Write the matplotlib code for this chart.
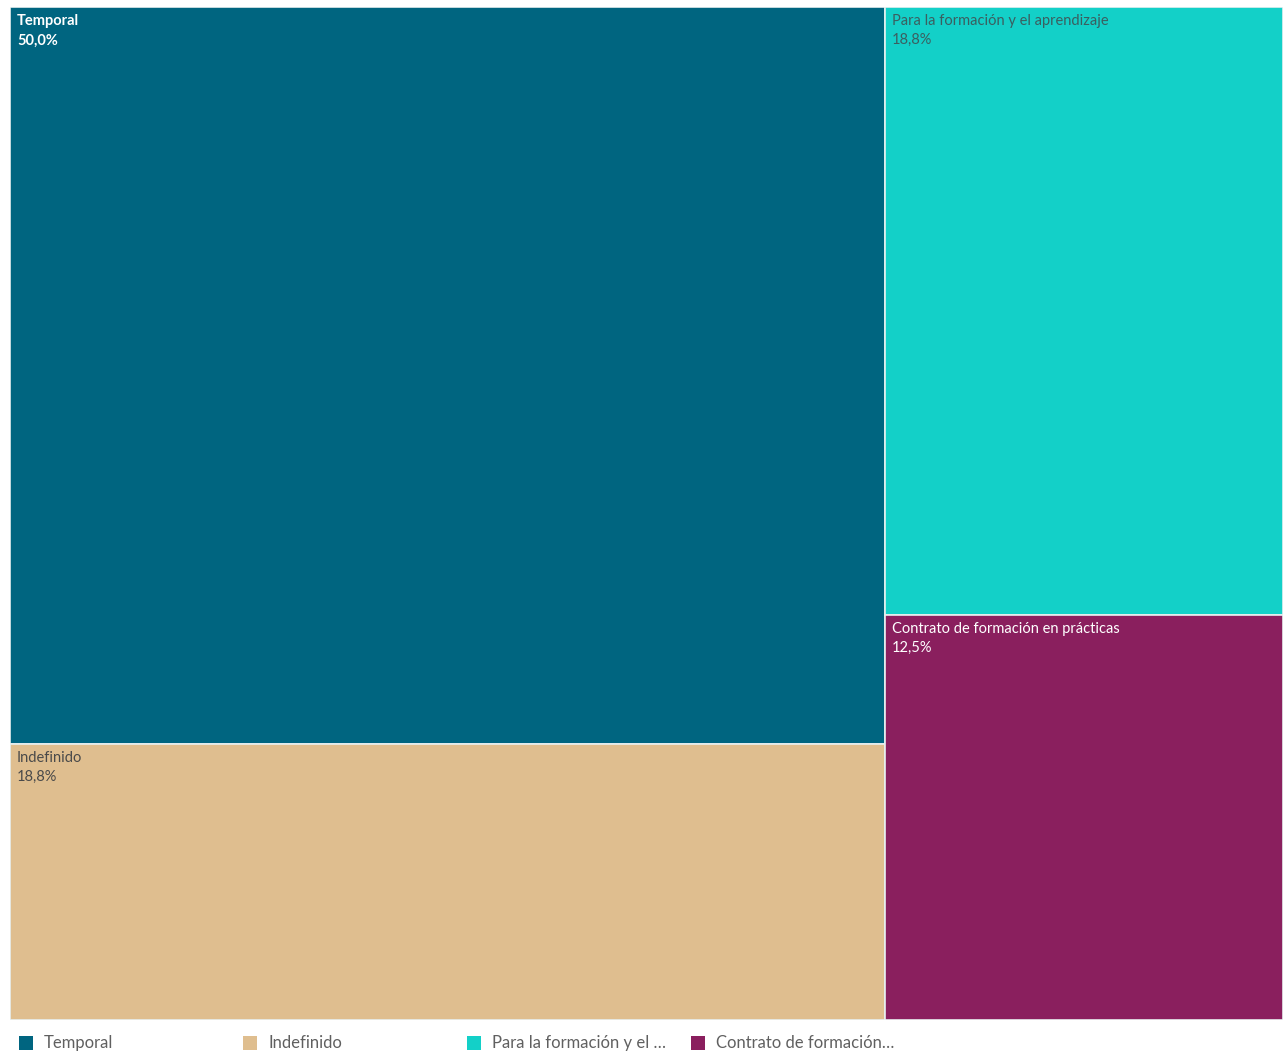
import matplotlib.pyplot as plt
from matplotlib.patches import Rectangle

# datos (numero de contratos)
categorias = ["Temporal", "Indefinido", "Para la formación y el aprendizaje",
              "Contrato de formación en prácticas"]
valores = [8, 3, 3, 2]
leyenda = ["Temporal", "Indefinido", "Para la formación y el …", "Contrato de formación…"]
colores = ["#006580", "#dfbe8f", "#13d0c8", "#8a1f5e"]
color_texto = ["white", "#4a4a4a", "#3b5f60", "white"]
negrita = ["bold", "normal", "normal", "normal"]
columnas = [[0, 1], [2, 3]]  # agrupacion del treemap

plt.rcParams['font.family'] = ['Lato', 'DejaVu Sans']

fig = plt.figure(figsize=(12.83, 10.57), dpi=100)
W, H = 1283, 1057
ax = fig.add_axes([10 / W, 1 - 1020 / H, 1273 / W, 1013 / H])
ax.set_xlim(0, 1)
ax.set_ylim(0, 1)
ax.axis('off')

total = sum(valores)
x0 = 0
for col in columnas:
    s = sum(valores[i] for i in col)
    w = s / total
    y_top = 1
    for i in col:
        h = valores[i] / s
        ax.add_patch(Rectangle((x0, y_top - h), w, h, facecolor=colores[i],
                               edgecolor="#e8f0f0", linewidth=1.2))
        # etiqueta en la esquina superior izquierda
        ax.annotate(categorias[i], (x0, y_top), xytext=(5, -5), textcoords='offset points',
                    ha='left', va='top', fontsize=10.5, color=color_texto[i],
                    fontweight=negrita[i])
        pct = f"{100 * valores[i] / total:.1f}%".replace(".", ",")
        ax.annotate(pct, (x0, y_top), xytext=(5, -19), textcoords='offset points',
                    ha='left', va='top', fontsize=10.5, color=color_texto[i],
                    fontweight=negrita[i])
        y_top -= h
    x0 += w

# leyenda manual
for k, lab in enumerate(leyenda):
    lx = 19 + 224 * k
    fig.patches.append(Rectangle((lx / W, 1 - 1050 / H), 14 / W, 14 / H,
                                 transform=fig.transFigure, facecolor=colores[k],
                                 edgecolor='none'))
    fig.text((lx + 25) / W, 1 - 1043 / H, lab, ha='left', va='center',
             fontsize=12, color="#606060")

fig.savefig("out.png", dpi=100)
